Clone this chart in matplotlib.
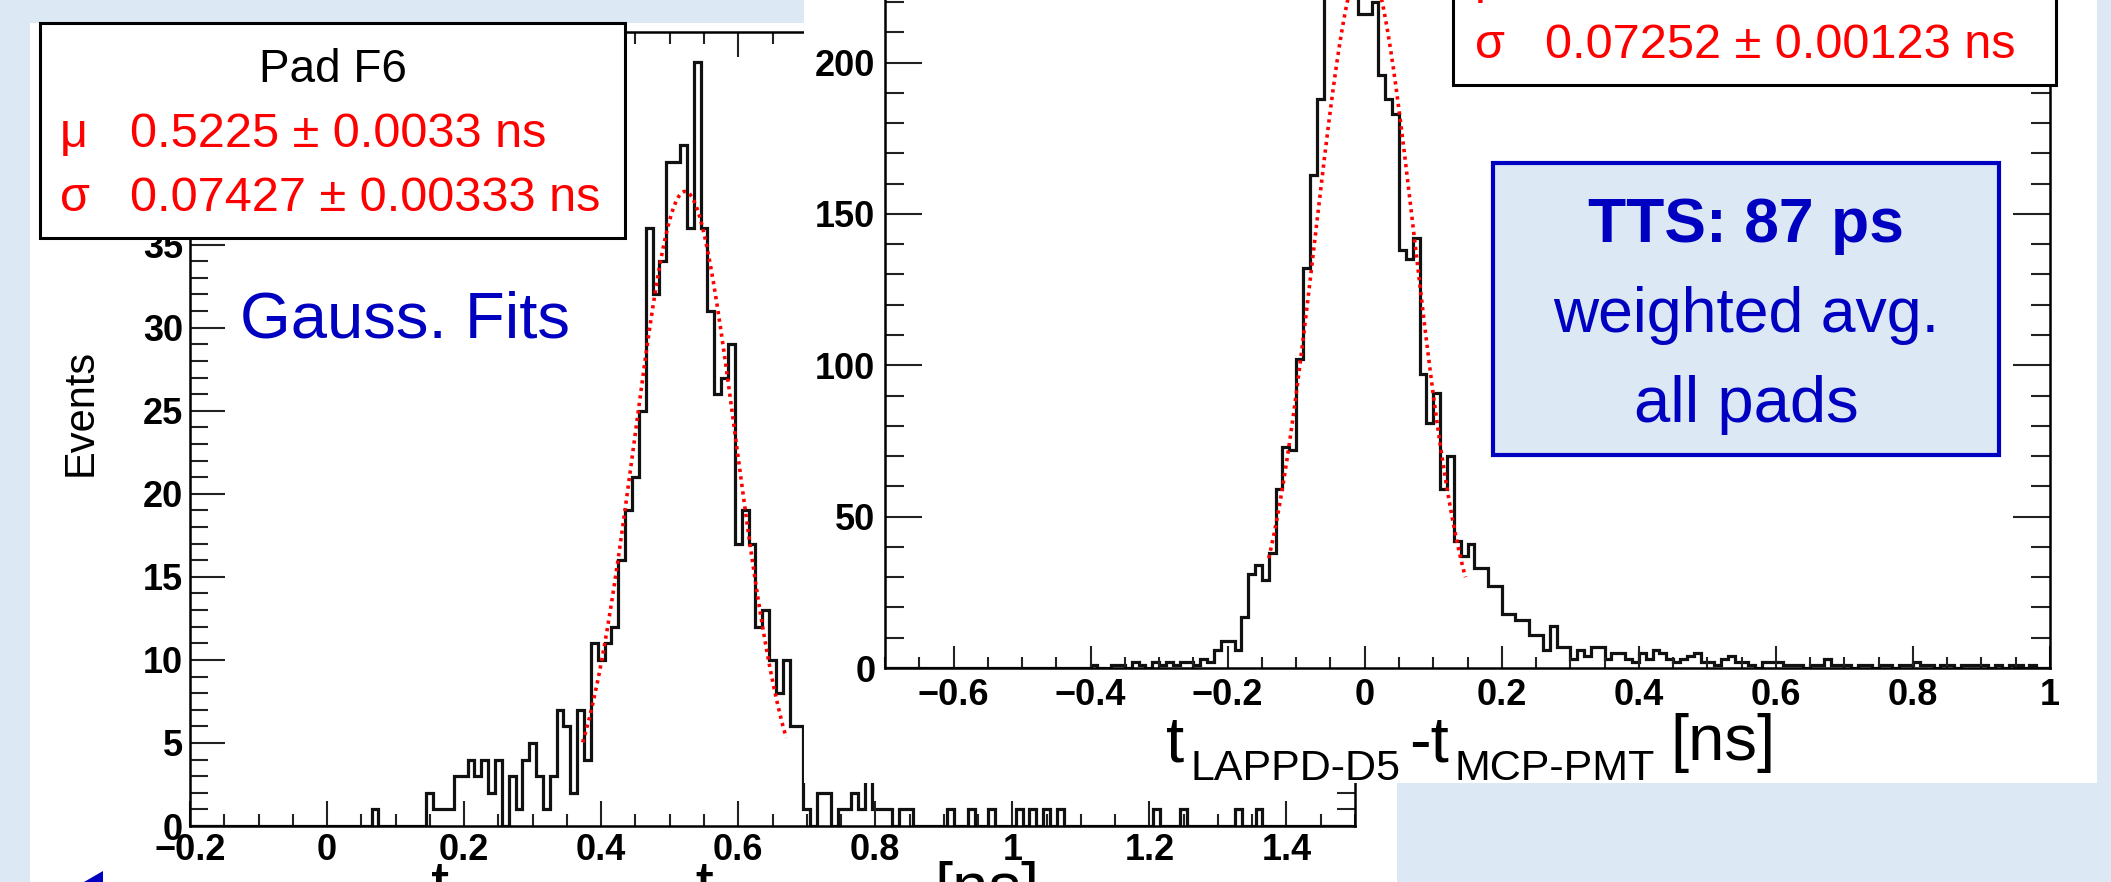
import numpy as np
import matplotlib
matplotlib.use("Agg")
import matplotlib.pyplot as plt
from matplotlib.patches import Rectangle, Polygon
from matplotlib.ticker import MultipleLocator

plt.rcParams['font.family'] = ['Liberation Sans', 'DejaVu Sans']

W, H, DPI = 2111, 882, 100
BG = '#DDE8F5'
BLUE = '#0000C0'

# left panel: single pad F6, bins of 0.01 ns centred on multiples of 0.01
pad_name = "Pad F6"
bin_width = 0.01
f6_first_center = -0.20
f6_counts = [
    0, 0, 0, 0, 0, 0, 0, 0, 0, 0,
    0, 0, 0, 0, 0, 0, 0, 0, 0, 0,
    0, 0, 0, 0, 0, 0, 0, 1, 0, 0,
    0, 0, 0, 0, 0, 2, 1, 1, 1, 3,
    3, 4, 3, 4, 2, 4, 0, 3, 1, 4,
    5, 3, 1, 3, 7, 6, 2, 7, 4, 11,
    10, 11, 12, 16, 19, 21, 25, 36, 32, 34,
    40, 40, 41, 36, 46, 36, 31, 26, 27, 29,
    17, 19, 17, 12, 13, 10, 8, 10, 6, 6,
    1, 0, 2, 2, 0, 1, 1, 2, 1, 3,
    1, 1, 1, 0, 1, 1, 0, 0, 0, 0,
    0, 1, 0, 0, 1, 0, 0, 1, 0, 0,
    0, 1, 0, 1, 0, 1, 0, 1, 0, 0,
    0, 0, 0, 0, 0, 0, 0, 0, 0, 0,
    0, 1, 0, 0, 0, 1, 0, 0, 0, 0,
    0, 0, 0, 1, 0, 0, 1, 0, 0, 0,
    0, 0, 0, 0, 0, 0, 0, 0, 0, 0,
]
f6_xticks = [-0.2, 0, 0.2, 0.4, 0.6, 0.8, 1, 1.2, 1.4]
f6_yticks = [0, 5, 10, 15, 20, 25, 30, 35, 40, 45]
f6_mu, f6_mu_err = 0.5225, 0.0033
f6_sigma, f6_sigma_err = 0.07427, 0.00333
f6_fit_amp = 38.2
f6_fit_range = (0.373, 0.670)

# right panel: all pads, bins of 0.01 ns starting at -0.70
d5_first_edge = -0.70
d5_counts = [
    0, 0, 0, 0, 0, 0, 0, 0, 0, 0,
    0, 0, 0, 0, 0, 0, 0, 0, 0, 0,
    0, 0, 0, 0, 0, 0, 0, 0, 0, 0,
    1, 0, 0, 1, 1, 0, 2, 1, 0, 2,
    1, 2, 1, 2, 2, 1, 3, 2, 6, 9,
    9, 6, 17, 31, 34, 29, 38, 59, 73, 72,
    102, 132, 163, 188, 228, 239, 244, 236, 241, 216,
    216, 220, 196, 188, 183, 138, 135, 142, 97, 81,
    91, 59, 70, 42, 37, 41, 33, 33, 27, 27,
    18, 18, 16, 16, 11, 11, 6, 14, 7, 7,
    3, 6, 4, 7, 7, 3, 5, 5, 3, 2,
    5, 3, 6, 5, 3, 2, 3, 4, 5, 2,
    2, 1, 3, 4, 2, 2, 1, 0, 2, 2,
    2, 1, 1, 1, 0, 1, 1, 3, 1, 1,
    1, 0, 1, 1, 0, 1, 1, 0, 1, 1,
    2, 1, 1, 0, 1, 1, 0, 1, 1, 1,
    1, 0, 1, 0, 1, 1, 0, 1, 0, 0,
]
d5_xticks = [-0.6, -0.4, -0.2, 0, 0.2, 0.4, 0.6, 0.8, 1]
d5_yticks = [0, 50, 100, 150, 200]
d5_mu = 0.0
d5_sigma, d5_sigma_err = 0.07252, 0.00123
d5_fit_amp = 234
d5_fit_range = (-0.140, 0.147)
tts_lines = ["TTS: 87 ps", "weighted avg.", "all pads"]

fig = plt.figure(figsize=(W / DPI, H / DPI), dpi=DPI, facecolor=BG)


def fig_text(x, y, s, **kw):
    # x, y in picture pixels from the top-left corner
    return fig.text(x / W, 1 - y / H, s, **kw)


def add_box(x0, y0, x1, y1, **kw):
    r = Rectangle((x0 / W, 1 - y1 / H), (x1 - x0) / W, (y1 - y0) / H,
                  transform=fig.transFigure, **kw)
    fig.add_artist(r)
    return r


def add_axes_px(x0, y0, x1, y1, z):
    ax = fig.add_axes([x0 / W, 1 - y1 / H, (x1 - x0) / W, (y1 - y0) / H])
    ax.set_zorder(z)
    ax.patch.set_visible(False)
    return ax


def tick_text(v):
    return f"{v:g}".replace('-', '\u2212')


def style_axes(ax, xticks, yticks, xminor, yminor, xlen, ylen, xpad, ypad):
    ax.set_xticks(xticks, labels=[tick_text(v) for v in xticks],
                  fontsize=26, fontweight='bold')
    ax.set_yticks(yticks, labels=[tick_text(v) for v in yticks],
                  fontsize=26, fontweight='bold')
    ax.xaxis.set_minor_locator(MultipleLocator(xminor))
    ax.yaxis.set_minor_locator(MultipleLocator(yminor))
    ax.tick_params(which='both', direction='in', top=True, right=True,
                   width=1.5, color='#222222')
    ax.tick_params(axis='x', which='major', length=xlen, pad=xpad)
    ax.tick_params(axis='x', which='minor', length=xlen * 0.48)
    ax.tick_params(axis='y', which='major', length=ylen, pad=ypad)
    ax.tick_params(axis='y', which='minor', length=ylen * 0.52)
    for sp in ax.spines.values():
        sp.set_linewidth(1.8)


def draw_hist(ax, edges, counts, mu, sigma, amp, fit_range):
    ax.stairs(counts, edges, color='#111111', lw=2.3, baseline=0)
    xs = np.linspace(fit_range[0], fit_range[1], 300)
    ys = amp * np.exp(-0.5 * ((xs - mu) / sigma) ** 2)
    ax.plot(xs, ys, color='red', lw=2.6, linestyle=(0, (0.9, 1.2)), zorder=3)


# left panel
add_box(30, 23, 1397, 900, facecolor='white', edgecolor='none', zorder=0.1)
ax1 = add_axes_px(190, 32, 1355, 826, 0.2)
f6_edges = f6_first_center - bin_width / 2 + bin_width * np.arange(len(f6_counts) + 1)
draw_hist(ax1, f6_edges, f6_counts, f6_mu, f6_sigma, f6_fit_amp, f6_fit_range)
ax1.set_xlim(-0.2, 1.5)
ax1.set_ylim(0, 47.8)
style_axes(ax1, f6_xticks, f6_yticks, 0.05, 1, 18, 25, 5, 5)

add_box(40, 23, 625, 238, facecolor='white', edgecolor='black', lw=2.2, zorder=0.3)
fig_text(333, 82, pad_name, fontsize=33, ha='center', va='baseline', zorder=0.31)
fig_text(60, 147, "\u03bc", fontsize=35, color='red', va='baseline', zorder=0.31)
fig_text(130, 147, f"{f6_mu:.4f} \u00b1 {f6_mu_err:.4f} ns", fontsize=35,
         color='red', va='baseline', zorder=0.31)
fig_text(60, 211, "\u03c3", fontsize=35, color='red', va='baseline', zorder=0.31)
fig_text(130, 211, f"{f6_sigma:.5f} \u00b1 {f6_sigma_err:.5f} ns", fontsize=35,
         color='red', va='baseline', zorder=0.31)

fig_text(240, 338, "Gauss. Fits", fontsize=47, color=BLUE, va='baseline', zorder=0.31)
fig_text(81, 412, "Events", fontsize=30, rotation=90, ha='center', va='center', zorder=0.31)

# x title of the left plot, mostly below the picture edge
fig_text(431, 905, "t", fontsize=47, va='baseline', zorder=0.31)
fig_text(455, 923, "LAPPD-F6", fontsize=31, va='baseline', zorder=0.31)
fig_text(674, 905, "-t", fontsize=47, va='baseline', zorder=0.31)
fig_text(720, 923, "MCP-PMT", fontsize=31, va='baseline', zorder=0.31)
fig_text(934, 908, "[ns]", fontsize=47, va='baseline', zorder=0.31)
fig.add_artist(Polygon([(84 / W, 1 - 882 / H), (103 / W, 1 - 871 / H), (103 / W, 1 - 882 / H)],
                       closed=True, transform=fig.transFigure, facecolor=BLUE,
                       edgecolor='none', zorder=0.31))

# right panel
add_box(804, -10, 2097, 783, facecolor='white', edgecolor='none', zorder=0.5)
ax2 = add_axes_px(885, 668 - 240 * 3.027, 2050, 668, 0.6)
d5_edges = d5_first_edge + bin_width * np.arange(len(d5_counts) + 1)
draw_hist(ax2, d5_edges, d5_counts, d5_mu, d5_sigma, d5_fit_amp, d5_fit_range)
ax2.set_xlim(-0.7, 1.0)
ax2.set_ylim(0, 240)
style_axes(ax2, d5_xticks, d5_yticks, 0.05, 10, 16, 26.6, 7, 7)

add_box(1453, -20, 2056, 85, facecolor='white', edgecolor='black', lw=2.2, zorder=0.7)
fig_text(1475, -6, "\u03bc", fontsize=35, color='red', va='baseline', zorder=0.71)
fig_text(1475, 58, "\u03c3", fontsize=35, color='red', va='baseline', zorder=0.71)
fig_text(1545, 58, f"{d5_sigma:.5f} \u00b1 {d5_sigma_err:.5f} ns", fontsize=35,
         color='red', va='baseline', zorder=0.71)

add_box(1493, 163, 1999, 455, facecolor=BG, edgecolor=BLUE, lw=3, zorder=0.7)
fig_text(1746, 242, tts_lines[0], fontsize=45, fontweight='bold', color=BLUE,
         ha='center', va='baseline', zorder=0.71)
fig_text(1746, 332, tts_lines[1], fontsize=45, color=BLUE,
         ha='center', va='baseline', zorder=0.71)
fig_text(1746, 422, tts_lines[2], fontsize=47, color=BLUE,
         ha='center', va='baseline', zorder=0.71)

fig_text(1166, 762, "t", fontsize=47, va='baseline', zorder=0.71)
fig_text(1190, 780, "LAPPD-D5", fontsize=31, va='baseline', zorder=0.71)
fig_text(1409, 762, "-t", fontsize=47, va='baseline', zorder=0.71)
fig_text(1455, 780, "MCP-PMT", fontsize=31, va='baseline', zorder=0.71)
fig_text(1670, 760, "[ns]", fontsize=47, va='baseline', zorder=0.71)

fig.savefig("out.png", dpi=DPI, facecolor=BG)
